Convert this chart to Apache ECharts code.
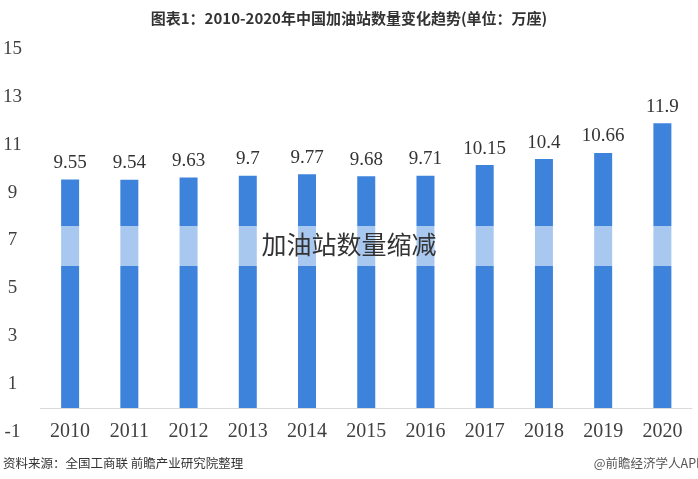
<!DOCTYPE html>
<html>
<head>
<meta charset="utf-8">
<script src="https://cdn.jsdelivr.net/npm/echarts@6/dist/echarts.min.js"></script>
<style>
html,body{margin:0;padding:0;background:#fff;}
#chart{width:698px;height:479px;}
</style>
</head>
<body>
<div id="chart"></div>
<script>
const titleText = '图表1：2010-2020年中国加油站数量变化趋势(单位：万座)';
const years = ['2010','2011','2012','2013','2014','2015','2016','2017','2018','2019','2020'];
const stations = [9.55, 9.54, 9.63, 9.7, 9.77, 9.68, 9.71, 10.15, 10.4, 10.66, 11.9];
const stationLabels = ['9.55','9.54','9.63','9.7','9.77','9.68','9.71','10.15','10.4','10.66','11.9'];
const overlayText = '加油站数量缩减';
const sourceText = '资料来源：全国工商联 前瞻产业研究院整理';
const brandText = '@前瞻经济学人APP';

const serif = '"Liberation Serif", "DejaVu Serif", serif';
const cjk = '"Noto Sans CJK SC", sans-serif';

const chart = echarts.init(document.getElementById('chart'));
chart.setOption({
  backgroundColor: '#ffffff',
  animation: false,
  title: {
    text: titleText,
    left: 'center',
    top: 6,
    textStyle: {fontFamily: cjk, fontSize: 15, fontWeight: 'bold', color: '#333333'}
  },
  grid: {left: 40, right: 6, top: 49, bottom: 47},
  xAxis: {
    type: 'category',
    data: years,
    axisLine: {show: true, onZero: true, lineStyle: {color: '#d9d9d9', width: 1}},
    axisTick: {show: false},
    axisLabel: {fontFamily: serif, fontSize: 20, color: '#404040', margin: -10}
  },
  yAxis: {
    type: 'value',
    min: -1, max: 15, interval: 2,
    splitLine: {show: false},
    axisLine: {show: false},
    axisTick: {show: false},
    axisLabel: {fontFamily: serif, fontSize: 19, color: '#404040', align: 'center', margin: 28}
  },
  series: [{
    type: 'bar',
    data: stations,
    barWidth: 18,
    itemStyle: {color: '#3d83dc'},
    label: {
      show: true,
      position: 'top',
      distance: 7,
      fontFamily: serif,
      fontSize: 19,
      color: '#333333',
      formatter: p => stationLabels[p.dataIndex]
    }
  }],
  graphic: [
    {type: 'rect', left: 40, top: 226, shape: {width: 652, height: 40}, style: {fill: 'rgba(255,255,255,0.56)'}, z: 100},
    {type: 'text', left: 'center', top: 232, style: {text: overlayText, fontFamily: cjk, fontSize: 25, fill: '#333333'}, z: 101},
    {type: 'text', left: 3, top: 457, style: {text: sourceText, fontFamily: cjk, fontSize: 12.5, fill: '#333333'}},
    {type: 'text', right: -6, top: 457, style: {text: brandText, fontFamily: cjk, fontSize: 12.5, fill: '#555555'}}
  ]
});
</script>
</body>
</html>
